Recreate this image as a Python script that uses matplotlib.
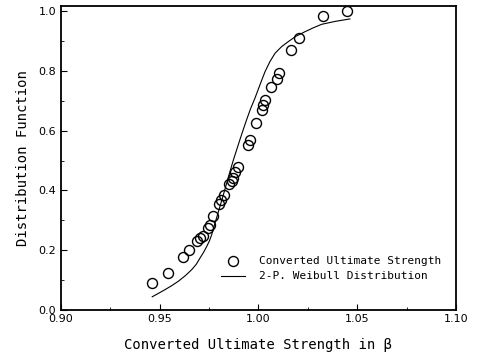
import matplotlib
matplotlib.use("Agg")
import matplotlib.pyplot as plt
from matplotlib.ticker import MultipleLocator

# ensayo: resistencia ultima convertida
resistencia = [0.9459, 0.9540, 0.9618, 0.9650, 0.9687, 0.9704, 0.9717, 0.9746,
               0.9754, 0.9771, 0.9800, 0.9810, 0.9825, 0.9852, 0.9864, 0.9869,
               0.9881, 0.9898, 0.9948, 0.9957, 0.9985, 1.0016, 1.0024, 1.0033,
               1.0065, 1.0095, 1.0105, 1.0163, 1.0207, 1.0328, 1.0450]
distribucion = [0.089, 0.123, 0.178, 0.201, 0.229, 0.240, 0.246, 0.274,
                0.285, 0.315, 0.355, 0.366, 0.385, 0.422, 0.430, 0.441,
                0.460, 0.478, 0.553, 0.570, 0.625, 0.670, 0.687, 0.703,
                0.746, 0.774, 0.793, 0.871, 0.910, 0.986, 1.002]

# curva Weibull de 2 parametros
weibullX = [0.9462, 0.9495, 0.9527, 0.9560, 0.9594, 0.9630, 0.9662, 0.9685,
            0.9704, 0.9722, 0.9738, 0.9752, 0.9763, 0.9780, 0.9800, 0.9820,
            0.9839, 0.9856, 0.9873, 0.9890, 0.9906, 0.9923, 0.9940, 0.9960,
            0.9982, 1.0008, 1.0033, 1.0058, 1.0084, 1.0117, 1.0151, 1.0190,
            1.0235, 1.0280, 1.0320, 1.0390, 1.0463]
weibullY = [0.043, 0.055, 0.067, 0.080, 0.095, 0.114, 0.134, 0.152,
            0.173, 0.192, 0.212, 0.231, 0.251, 0.290, 0.335, 0.380,
            0.424, 0.464, 0.502, 0.537, 0.570, 0.604, 0.637, 0.674,
            0.709, 0.755, 0.798, 0.832, 0.860, 0.882, 0.899, 0.917,
            0.932, 0.946, 0.957, 0.967, 0.975]

xTicks = [0.90, 0.95, 1.00, 1.05, 1.10]
yTicks = [0.0, 0.2, 0.4, 0.6, 0.8, 1.0]

fig = plt.figure(figsize=(4.8, 3.6), dpi=100)
ax = fig.add_axes([0.127, 0.140, 0.823, 0.843])

ax.plot(resistencia, distribucion, 'o', mfc='none', mec='black', ms=7.2, mew=1.0,
        label='Converted Ultimate Strength')
ax.plot(weibullX, weibullY, '-', color='black', lw=0.8,
        label='2-P. Weibull Distribution')

ax.set_xlim(0.90, 1.10)
ax.set_ylim(0.0, 1.018)
ax.set_xticks(xTicks)
ax.set_xticklabels(['%.2f' % t for t in xTicks], fontsize=8)
ax.set_yticks(yTicks)
ax.set_yticklabels(['%.1f' % t for t in yTicks], fontsize=8)
ax.xaxis.set_minor_locator(MultipleLocator(0.025))
ax.yaxis.set_minor_locator(MultipleLocator(0.1))
ax.tick_params(which='both', direction='in')
ax.tick_params(which='major', length=4)
ax.tick_params(which='minor', length=2)
for s in ax.spines.values():
    s.set_linewidth(1.3)

ax.set_xlabel('Converted Ultimate Strength in β', family='DejaVu Sans Mono',
              fontsize=10, labelpad=10)
ax.set_ylabel('Distribution Function', family='DejaVu Sans Mono', fontsize=10,
              labelpad=6)

ax.legend(loc='upper left', bbox_to_anchor=(0.405, 0.175), frameon=False,
          prop={'family': 'DejaVu Sans Mono', 'size': 8}, borderpad=0,
          handlelength=2.2, handletextpad=1.2, labelspacing=0.45, borderaxespad=0)

plt.savefig('out.png', dpi=100)
